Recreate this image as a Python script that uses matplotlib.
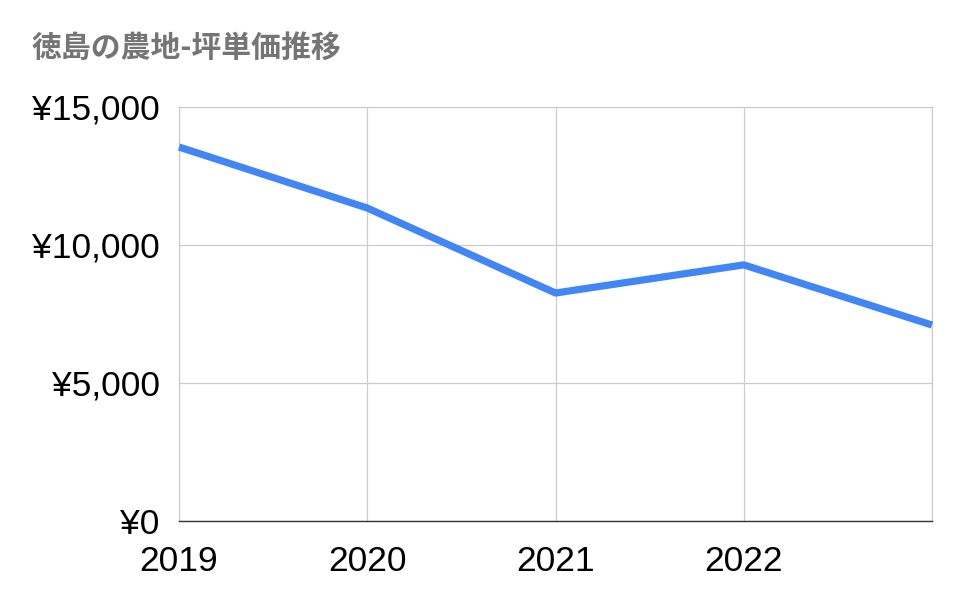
import matplotlib
matplotlib.use('Agg')
import matplotlib.pyplot as plt

years = [2019, 2020, 2021, 2022, 2023]
year_labels = ['2019', '2020', '2021', '2022', '']
price = [13550, 11340, 8260, 9280, 7100]  # 円/坪
y_ticks = [0, 5000, 10000, 15000]

plt.rcParams['font.family'] = ['Liberation Sans', 'Noto Sans CJK JP', 'DejaVu Sans']

fig = plt.figure(figsize=(9.64, 6.12), dpi=100)
ax = fig.add_axes([179/964, 91/612, 753/964, 414/612])

ax.plot(years, price, color='#4285F4', lw=5.2, solid_capstyle='butt', zorder=3, clip_on=False)

ax.set_xlim(2019, 2023)
ax.set_ylim(0, 15000)
ax.set_xticks(years)
ax.set_xticklabels(year_labels)
ax.set_yticks(y_ticks)
ax.set_yticklabels(['¥{:,}'.format(v) for v in y_ticks])
ax.grid(True, color='#cccccc', lw=0.9)
ax.tick_params(length=0, labelsize=25.5, pad=14)
ax.tick_params(axis='x', pad=17)
for s in ['left', 'right', 'top']:
    ax.spines[s].set_color('#cccccc')
    ax.spines[s].set_linewidth(0.9)
ax.spines['bottom'].set_color('#333333')
ax.spines['bottom'].set_linewidth(1.0)

fig.text(32/964, 1 - 48/612, '徳島の農地-坪単価推移', fontsize=21.5, fontweight='bold',
         color='#757575', va='center', ha='left',
         family=['Noto Sans CJK JP', 'DejaVu Sans'])

fig.savefig('out.png', dpi=100)
